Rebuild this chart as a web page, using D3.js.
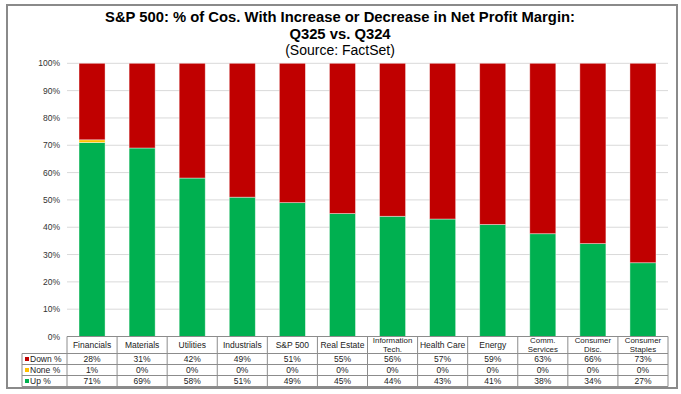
<!DOCTYPE html>
<html>
<head>
<meta charset="utf-8">
<script src="https://cdn.jsdelivr.net/npm/d3@7"></script>
<style>
  body { margin: 0; background: #fff; }
  text { font-family: "Liberation Sans", Arial, sans-serif; }
</style>
</head>
<body>
<svg id="chart" width="681" height="394"></svg>
<script>
// data
var categories = ['Financials', 'Materials', 'Utilities', 'Industrials', 'S&P 500', 'Real Estate',
  'Information Tech.', 'Health Care', 'Energy', 'Comm. Services', 'Consumer Disc.', 'Consumer Staples'];
var downPct = [28, 31, 42, 49, 51, 55, 56, 57, 59, 63, 66, 73];
var nonePct = [1, 0, 0, 0, 0, 0, 0, 0, 0, 0, 0, 0];
var upPct = [71, 69, 58, 51, 49, 45, 44, 43, 41, 38, 34, 27];
var yTicks = [0, 10, 20, 30, 40, 50, 60, 70, 80, 90, 100];

var series = [
  { key: 'down', label: 'Down %', vals: downPct, color: '#c00000' },
  { key: 'none', label: 'None %', vals: nonePct, color: '#ffc000' },
  { key: 'up', label: 'Up %', vals: upPct, color: '#00b050' }
];

var svg = d3.select('#chart');
var m = { left: 67, right: 668, top: 63.3, bottom: 336.5 };
var tbl = { labelX: 22, headH: 17, rowH: 11 };

// outer frame
svg.append('rect')
  .attr('x', 7).attr('y', 5).attr('width', 670).attr('height', 383)
  .attr('fill', 'none').attr('stroke', '#8a8a8a').attr('stroke-width', 2);

// titles
var title = svg.append('g').attr('text-anchor', 'middle').attr('fill', '#000');
title.append('text').attr('x', 340).attr('y', 22)
  .attr('font-size', 14.8).attr('font-weight', 'bold')
  .text('S&P 500: % of Cos. With Increase or Decrease in Net Profit Margin:');
title.append('text').attr('x', 340).attr('y', 38.5)
  .attr('font-size', 14.8).attr('font-weight', 'bold')
  .text('Q325 vs. Q324');
title.append('text').attr('x', 340).attr('y', 54.5)
  .attr('font-size', 14)
  .text('(Source: FactSet)');

var x = d3.scaleBand().domain(categories).range([m.left, m.right]).paddingInner(0.48).paddingOuter(0.24);
var y = d3.scaleLinear().domain([0, 100]).range([m.bottom, m.top]);

// gridlines
svg.append('g').selectAll('line').data(yTicks.slice(1)).join('line')
  .attr('x1', m.left).attr('x2', m.right)
  .attr('y1', function(d) { return y(d); }).attr('y2', function(d) { return y(d); })
  .attr('stroke', '#d9d9d9').attr('stroke-width', 1);

// y tick labels
svg.append('g').selectAll('text').data(yTicks).join('text')
  .attr('x', 60).attr('y', function(d) { return y(d) + 3; })
  .attr('text-anchor', 'end').attr('font-size', 8.5).attr('fill', '#333')
  .text(function(d) { return d + '%'; });

// stacked bars, bottom to top: up, none, down
var rows = categories.map(function(c, i) {
  return { cat: c, up: upPct[i], none: nonePct[i], down: downPct[i] };
});
var stack = d3.stack().keys(['up', 'none', 'down']).offset(d3.stackOffsetExpand);
var colorOf = { up: '#00b050', none: '#ffc000', down: '#c00000' };

svg.append('g').selectAll('g').data(stack(rows)).join('g')
  .attr('fill', function(s) { return colorOf[s.key]; })
  .selectAll('rect').data(function(s) { return s; }).join('rect')
  .attr('x', function(d) { return x(d.data.cat); })
  .attr('width', x.bandwidth())
  .attr('y', function(d) { return y(d[1] * 100); })
  .attr('height', function(d) { return y(d[0] * 100) - y(d[1] * 100); })
  .attr('stroke', 'rgba(255,255,255,0.5)').attr('stroke-width', 0.8);

// data table
var colW = (m.right - m.left) / categories.length;
var t = svg.append('g').attr('font-size', 8.5).attr('fill', '#222');
var tTop = m.bottom;
var rowsTop = tTop + tbl.headH;
var tBottom = rowsTop + tbl.rowH * series.length;
var lineCol = '#8c8c8c';

// horizontal lines
t.append('line').attr('x1', m.left).attr('x2', m.right).attr('y1', tTop).attr('y2', tTop)
  .attr('stroke', lineCol);
d3.range(series.length + 1).forEach(function(i) {
  var yy = rowsTop + i * tbl.rowH;
  t.append('line').attr('x1', tbl.labelX).attr('x2', m.right).attr('y1', yy).attr('y2', yy)
    .attr('stroke', lineCol);
});
// vertical lines
t.append('line').attr('x1', tbl.labelX).attr('x2', tbl.labelX).attr('y1', rowsTop).attr('y2', tBottom)
  .attr('stroke', lineCol);
d3.range(categories.length + 1).forEach(function(i) {
  var xx = m.left + i * colW;
  t.append('line').attr('x1', xx).attr('x2', xx).attr('y1', tTop).attr('y2', tBottom)
    .attr('stroke', lineCol);
});

// category headers, wrapped when too wide
categories.forEach(function(c, i) {
  var cx = m.left + (i + 0.5) * colW;
  var txt = t.append('text').attr('text-anchor', 'middle').attr('x', cx).text(c);
  var w = txt.node().getComputedTextLength();
  if (w > colW - 3) {
    var parts = c.split(' ');
    txt.text(null).attr('font-size', 7.9);
    txt.append('tspan').attr('x', cx).attr('y', tTop + 6.6).text(parts[0]);
    txt.append('tspan').attr('x', cx).attr('y', tTop + 15.8).text(parts.slice(1).join(' '));
  } else {
    txt.attr('y', tTop + 11.5);
  }
});

// series rows
series.forEach(function(s, r) {
  var yy = rowsTop + r * tbl.rowH;
  t.append('rect').attr('x', tbl.labelX + 3).attr('y', yy + 3.5).attr('width', 4).attr('height', 4)
    .attr('fill', s.color);
  t.append('text').attr('x', tbl.labelX + 8).attr('y', yy + 8.7).text(s.label);
  s.vals.forEach(function(v, i) {
    t.append('text').attr('text-anchor', 'middle')
      .attr('x', m.left + (i + 0.5) * colW).attr('y', yy + 8.7)
      .text(v + '%');
  });
});
</script>
</body>
</html>
